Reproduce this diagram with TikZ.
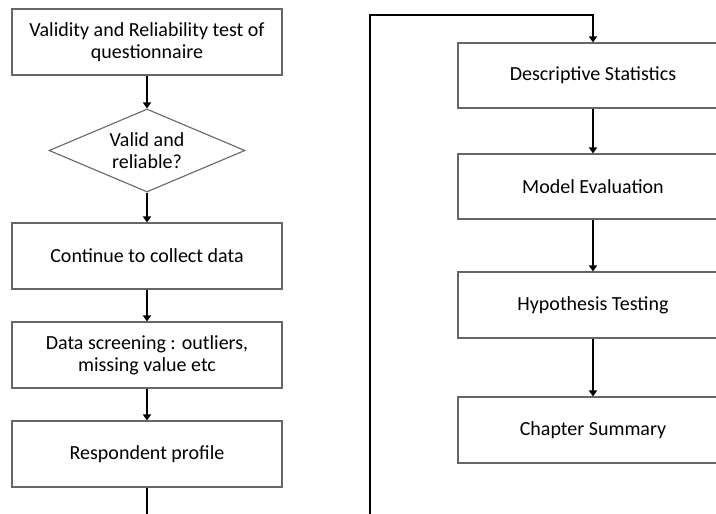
\documentclass[tikz,border=0pt]{standalone}
\usepackage{fontspec}
\setmainfont{Carlito}
\usepackage{tikz}
\usetikzlibrary{shapes.geometric,arrows.meta}

\begin{document}
\begin{tikzpicture}[x=1pt, y=-1pt,
    stepbox/.style={draw=black!60, line width=1.1pt, rectangle, minimum width=270pt,
      minimum height=66pt, align=center, inner sep=2pt, font=\fontsize{20}{22}\selectfont},
    choice/.style={draw=black!60, line width=1.1pt, diamond, aspect=2.36, minimum width=196pt,
      minimum height=83pt, align=center, inner sep=0pt, font=\fontsize{20}{22}\selectfont},
    flow/.style={draw=black, line width=2.2pt, -{Triangle[width=8pt,length=6pt]}}]
           \clip (0, 0) rectangle (716, 514);

           % Venstre kolonne
           \node[stepbox] (validity) at (147, 42) {Validity and Reliability test of\\questionnaire};
           \node[choice] (valid) at (147, 150.5) {Valid and\\reliable?};
           \node[stepbox] (collect) at (147, 256) {Continue to collect data};
           \node[stepbox] (screening) at (147, 355) {Data screening : outliers,\\missing value etc};
           \node[stepbox] (profile) at (147, 454) {Respondent profile};

           % Hoyre kolonne
           \node[stepbox, minimum height=65pt] (descriptive) at (593, 75.5) {Descriptive Statistics};
           \node[stepbox, minimum height=65pt] (model) at (593, 186.5) {Model Evaluation};
           \node[stepbox] (hypothesis) at (593, 305) {Hypothesis Testing};
           \node[stepbox] (summary) at (593, 430) {Chapter Summary};

           % Piler
           \draw[flow] (validity) -- (valid);
           \draw[flow] (valid) -- (collect);
           \draw[flow] (collect) -- (screening);
           \draw[flow] (screening) -- (profile);
           \draw[flow] (descriptive) -- (model);
           \draw[flow] (model) -- (hypothesis);
           \draw[flow] (hypothesis) -- (summary);

           % Overgang mellom kolonnene
           \coordinate (below) at (147, 540);
           \coordinate (corner) at (370, 15);
           \draw[flow] (profile) -- (below) -| (corner) -| (descriptive);
         \end{tikzpicture}
\end{document}
